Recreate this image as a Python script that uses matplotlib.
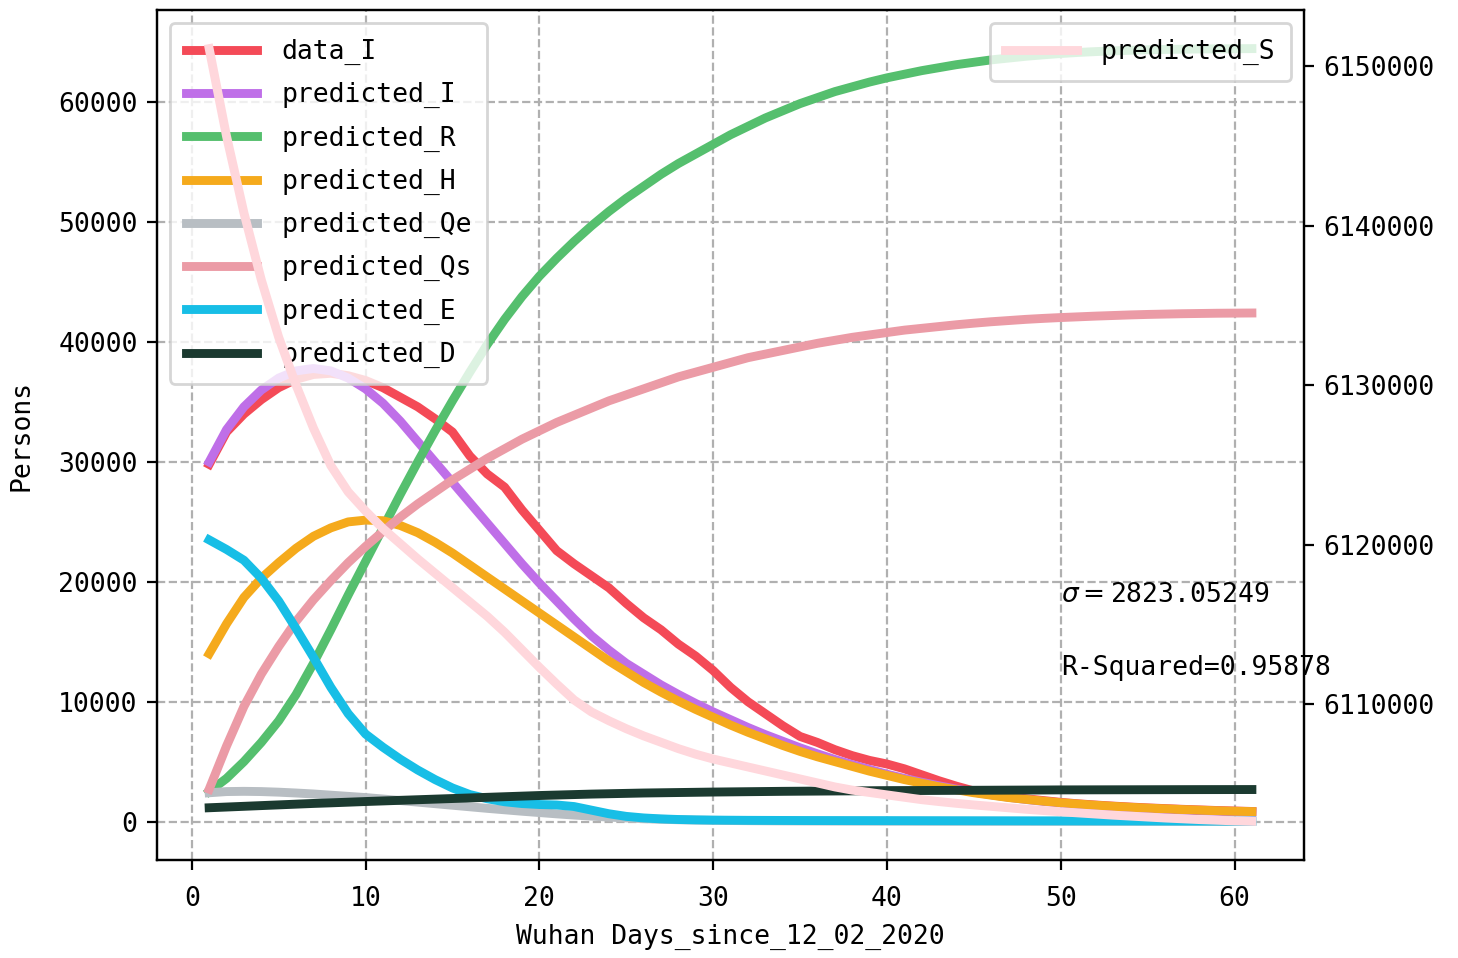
import matplotlib
matplotlib.use('Agg')
import matplotlib.pyplot as plt

days = list(range(1, 62))

data_I = [29800, 32500, 34000, 35200, 36200, 36900, 37300, 37400, 37200, 36800,
          36200, 35400, 34600, 33600, 32500, 30500, 29000, 27900, 26000, 24300,
          22600, 21500, 20500, 19500, 18200, 17000, 16000, 14800, 13800, 12600,
          11200, 10000, 9000, 8000, 7100, 6600, 6000, 5500, 5100, 4800,
          4400, 3900, 3400, 2950, 2550, 2250, 2050, 1900, 1750, 1600,
          1480, 1380, 1290, 1210, 1140, 1080, 1020, 970, 920, 880, 840]

pred_I = [30000, 32700, 34600, 36000, 37000, 37600, 37800, 37600, 37000, 36100,
          34900, 33400, 31700, 30000, 28300, 26600, 24900, 23200, 21500, 19900,
          18400, 16900, 15500, 14300, 13200, 12300, 11400, 10600, 9850, 9150,
          8500, 7850, 7250, 6700, 6150, 5650, 5180, 4750, 4350, 3950,
          3600, 3280, 2980, 2700, 2450, 2230, 2020, 1840, 1680, 1540,
          1420, 1310, 1210, 1130, 1060, 1000, 950, 900, 860, 820, 790]

pred_R = [2500, 3600, 5000, 6600, 8400, 10600, 13200, 16000, 18900, 21700,
          24500, 27300, 30000, 32600, 35100, 37500, 39800, 41900, 43800, 45500,
          47000, 48400, 49700, 50900, 52000, 53000, 54000, 54900, 55700, 56500,
          57300, 58000, 58700, 59300, 59900, 60400, 60900, 61300, 61700, 62050,
          62350, 62650, 62900, 63150, 63350, 63550, 63700, 63850, 63970, 64080,
          64170, 64240, 64300, 64350, 64390, 64420, 64440, 64460, 64470, 64480, 64490]

pred_H = [14000, 16500, 18700, 20300, 21600, 22800, 23800, 24500, 25000, 25150,
          25100, 24700, 24100, 23300, 22400, 21400, 20400, 19400, 18400, 17400,
          16400, 15400, 14400, 13400, 12500, 11600, 10800, 10050, 9350, 8700,
          8050, 7450, 6900, 6350, 5850, 5400, 5000, 4600, 4200, 3850,
          3500, 3200, 2900, 2650, 2400, 2200, 2000, 1850, 1700, 1570,
          1460, 1360, 1270, 1190, 1120, 1060, 1000, 950, 900, 860, 830]

pred_Qe = [2400, 2500, 2520, 2500, 2450, 2380, 2300, 2200, 2100, 2000,
           1880, 1750, 1620, 1490, 1360, 1230, 1100, 980, 860, 750,
           640, 540, 450, 370, 300, 240, 190, 150, 120, 100,
           85, 72, 62, 54, 48, 43, 39, 36, 33, 31,
           29, 27, 26, 25, 24, 23, 22, 21, 20, 20,
           19, 19, 18, 18, 17, 17, 16, 16, 15, 15, 15]

pred_Qs = [2700, 6300, 9600, 12300, 14600, 16700, 18500, 20100, 21600, 22950,
           24200, 25400, 26500, 27500, 28500, 29400, 30300, 31100, 31900, 32600,
           33300, 33900, 34500, 35100, 35600, 36100, 36600, 37100, 37500, 37900,
           38300, 38700, 39000, 39300, 39600, 39900, 40150, 40400, 40600, 40800,
           41000, 41150, 41300, 41450, 41580, 41700, 41800, 41900, 41980, 42050,
           42110, 42170, 42220, 42270, 42310, 42340, 42370, 42390, 42410, 42420, 42430]

pred_E = [23500, 22700, 21800, 20300, 18400, 16100, 13700, 11200, 9000, 7300,
          6200, 5200, 4300, 3500, 2800, 2250, 1900, 1650, 1500, 1420,
          1380, 1250, 950, 650, 430, 300, 220, 170, 140, 120,
          110, 100, 95, 90, 85, 82, 80, 78, 76, 74,
          72, 70, 68, 66, 64, 62, 60, 58, 56, 54,
          52, 50, 48, 46, 44, 42, 40, 38, 36, 34, 32]

pred_D = [1150, 1210, 1270, 1330, 1390, 1450, 1510, 1560, 1615, 1670,
          1720, 1770, 1820, 1870, 1920, 1970, 2020, 2070, 2120, 2170,
          2210, 2250, 2290, 2320, 2350, 2380, 2400, 2420, 2440, 2460,
          2475, 2490, 2505, 2520, 2530, 2540, 2550, 2560, 2570, 2580,
          2585, 2590, 2596, 2602, 2608, 2614, 2620, 2626, 2632, 2640,
          2643, 2646, 2649, 2652, 2655, 2658, 2661, 2664, 2666, 2668, 2670]

pred_S = [6151100, 6145600, 6140800, 6136600, 6133000, 6130000, 6127300, 6124950, 6123300, 6122100,
          6121000, 6120050, 6119100, 6118200, 6117300, 6116400, 6115500, 6114500, 6113400, 6112300,
          6111250, 6110250, 6109500, 6108950, 6108450, 6108000, 6107600, 6107200, 6106850, 6106550,
          6106300, 6106050, 6105800, 6105550, 6105300, 6105050, 6104800, 6104600, 6104450, 6104300,
          6104150, 6104000, 6103880, 6103770, 6103670, 6103580, 6103490, 6103400, 6103320, 6103240,
          6103170, 6103100, 6103030, 6102970, 6102910, 6102850, 6102800, 6102750, 6102710, 6102670, 6102640]

sigma_text = r'$\sigma=$2823.05249'
r2_text = 'R-Squared=0.95878'

plt.rcParams['font.family'] = ['DejaVu Sans Mono', 'DejaVu Sans']
plt.rcParams['font.size'] = 9.5
plt.rcParams['mathtext.fontset'] = 'dejavusans'

fig = plt.figure(figsize=(7.29, 4.79), dpi=200)
ax = fig.add_axes([0.1077, 0.1023, 0.7867, 0.8873])
lw = 3.2

series = [
    (data_I, '#f44a57', 'data_I'),
    (pred_I, '#bf6fe8', 'predicted_I'),
    (pred_R, '#55bf6e', 'predicted_R'),
    (pred_H, '#f5aa1c', 'predicted_H'),
    (pred_Qe, '#b8bec3', 'predicted_Qe'),
    (pred_Qs, '#eb9ba6', 'predicted_Qs'),
    (pred_E, '#17bee6', 'predicted_E'),
    (pred_D, '#1b3a30', 'predicted_D'),
]
for vals, c, lab in series:
    ax.plot(days, vals, color=c, lw=lw, label=lab)

ax.grid(True, linestyle='--', color='#b0b0b0', lw=0.8)
ax.tick_params(axis='x', pad=6)
ax.set_xlabel('Wuhan Days_since_12_02_2020', labelpad=4)
ax.set_ylabel('Persons', labelpad=8.5)
ax.legend(loc='upper left', handlelength=2.7, handletextpad=0.9,
          labelspacing=0.65, borderpad=0.6)
ax.text(50, 18900, sigma_text, va='center', ha='left')
ax.text(50, 12800, r2_text, va='center', ha='left')

ax2 = ax.twinx()
ax2.plot(days, pred_S, color='#ffd7dc', lw=lw, label='predicted_S')
ax2.ticklabel_format(axis='y', style='plain', useOffset=False)
ax2.legend(loc='upper right', handlelength=2.7, handletextpad=0.9, borderpad=0.6)

fig.savefig('out.png', dpi=200)
